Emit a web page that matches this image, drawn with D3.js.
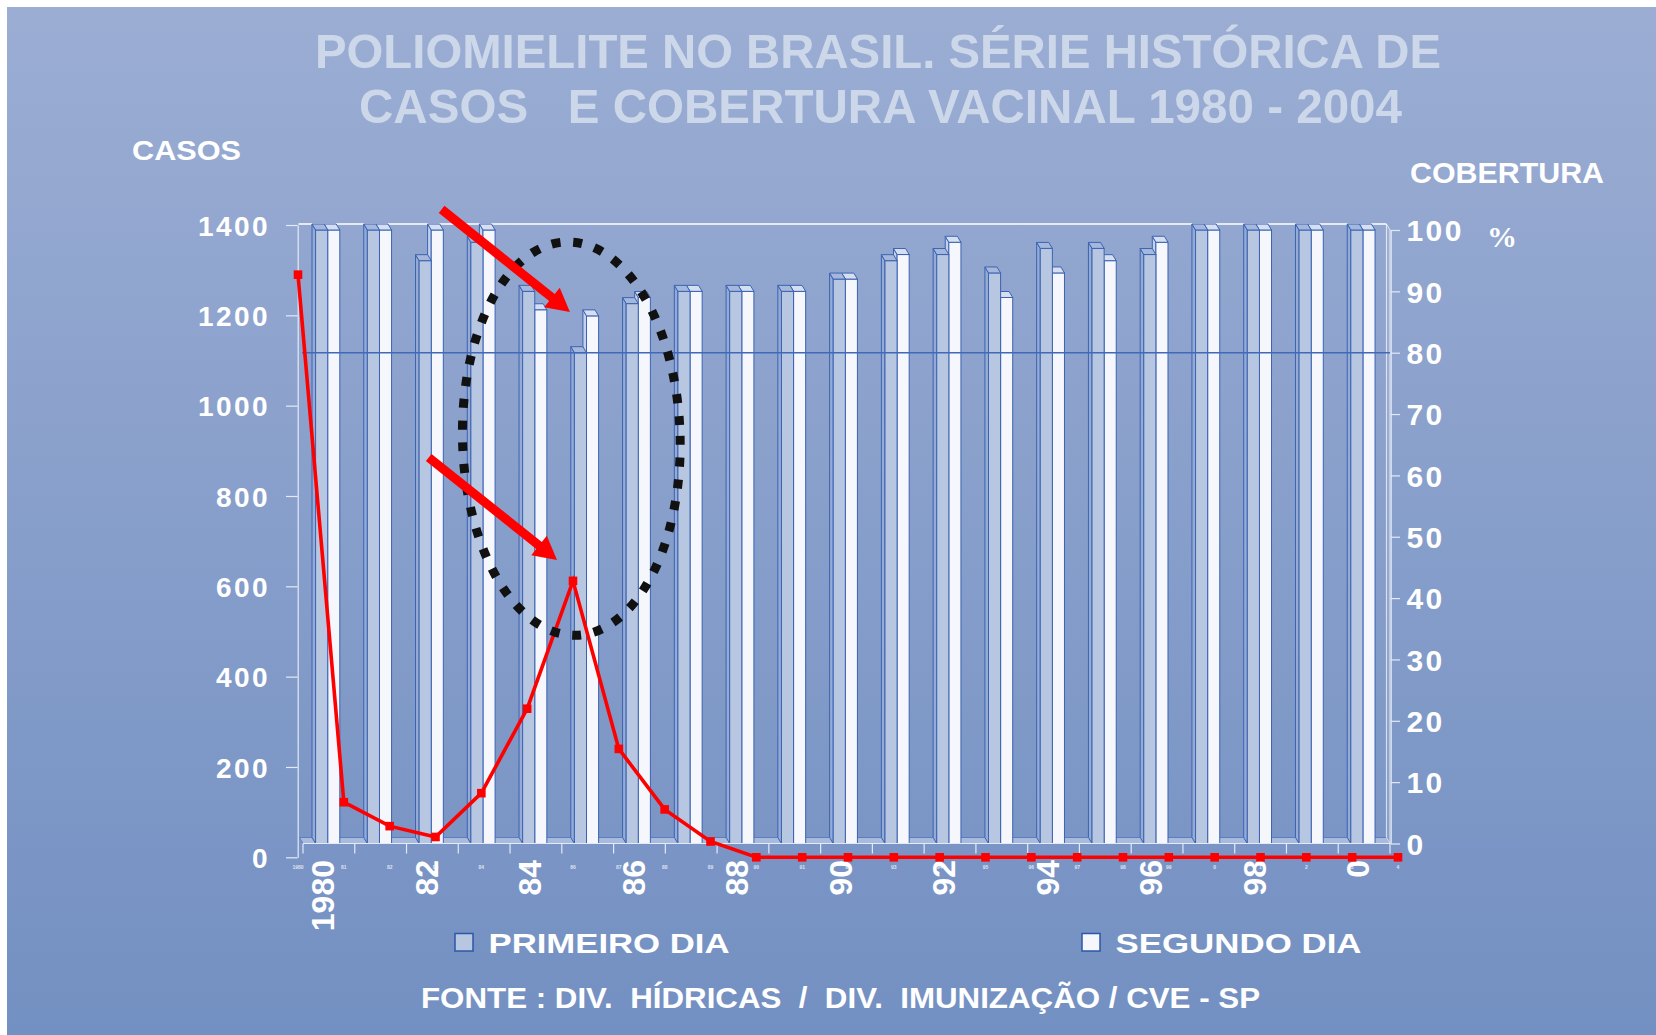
<!DOCTYPE html>
<html lang="pt">
<head>
<meta charset="utf-8">
<style>
  body { margin: 0; background: #fff; }
  svg { display: block; }
  text { font-family: "Liberation Sans", Arial, sans-serif; font-weight: bold; }
</style>
</head>
<body>
<svg width="1656" height="1035"></svg>
<script src="https://d3js.org/d3.v7.min.js"></script>
<script>
// cobertura vacinal (%) por ano - barras
var barYears = [1980, 1981, 1982, 1983, 1984, 1985, 1986, 1987, 1988, 1989, 1990,
                1991, 1992, 1993, 1994, 1995, 1996, 1997, 1998, 1999, 2000];
var primeiroDia = [100, 100, 95, 98, 90, 80, 88, 90, 90, 90, 92, 95, 96, 93, 97, 97, 96, 100, 100, 100, 100];
var segundoDia  = [100, 100, 100, 100, 87, 86, 89, 90, 90, 90, 92, 96, 98, 89, 93, 95, 98, 100, 100, 100, 100];

// casos de poliomielite - linha (1980-2004)
var lineYears = ["1980", "81", "82", "83", "84", "85", "86", "87", "88", "89", "90", "91", "92",
                 "93", "94", "95", "96", "97", "98", "99", "0", "1", "2", "3", "4"];
var casos = [1290, 122, 69, 45, 142, 329, 612, 240, 106, 35, 0, 0, 0,
             0, 0, 0, 0, 0, 0, 0, 0, 0, 0, 0, 0];

// eixos
var tickYears  = [1980, 1982, 1984, 1986, 1988, 1990, 1992, 1994, 1996, 1998, 2000];
var tickLabels = ["1980", "82", "84", "86", "88", "90", "92", "94", "96", "98", "0"];
var casosTicks = [0, 200, 400, 600, 800, 1000, 1200, 1400];
var cobTicks   = [0, 10, 20, 30, 40, 50, 60, 70, 80, 90, 100];
var meta = 80;

var svg = d3.select("svg"),
    width = +svg.attr("width"),
    height = +svg.attr("height");

var defs = svg.append("defs");
var grad = defs.append("linearGradient").attr("id", "bg")
    .attr("x1", 0).attr("y1", 0).attr("x2", 0).attr("y2", 1);
grad.append("stop").attr("offset", "0%").attr("stop-color", "#9badd3");
grad.append("stop").attr("offset", "100%").attr("stop-color", "#7390c2");

svg.append("rect").attr("width", width).attr("height", height).attr("fill", "#fff");
svg.append("rect").attr("x", 7).attr("y", 7)
    .attr("width", width - 7).attr("height", height - 7).attr("fill", "url(#bg)");

// scales
var xb = d3.scaleBand().domain(barYears).range([303, 1390]);
var yR = d3.scaleLinear().domain([0, 100]).range([843.5, 230]);
var yL = d3.scaleLinear().domain([0, 1400]).range([857.3, 225]);
var xl = d3.scalePoint().domain(lineYears).range([298, 1398]);

var bw = 12.1, dx = -3.6, dz = -6, off = 12.6;
var pale = "#e4eaf5";

// title
svg.append("text").attr("x", 315).attr("y", 68)
    .attr("font-size", 49).attr("fill", "#cdd7ea")
    .attr("textLength", 1126).attr("lengthAdjust", "spacingAndGlyphs")
    .text("POLIOMIELITE NO BRASIL. SÉRIE HISTÓRICA DE");
svg.append("text").attr("x", 359).attr("y", 122.5)
    .attr("font-size", 49).attr("fill", "#cdd7ea")
    .style("white-space", "pre")
    .attr("textLength", 1043).attr("lengthAdjust", "spacingAndGlyphs")
    .text("CASOS   E COBERTURA VACINAL 1980 - 2004");

svg.append("text").attr("x", 132).attr("y", 159.5)
    .attr("font-size", 27).attr("fill", "#fff")
    .attr("textLength", 109).attr("lengthAdjust", "spacingAndGlyphs")
    .text("CASOS");
svg.append("text").attr("x", 1410).attr("y", 183.3)
    .attr("font-size", 30).attr("fill", "#fff")
    .attr("textLength", 194).attr("lengthAdjust", "spacingAndGlyphs")
    .text("COBERTURA");
svg.append("text").attr("x", 1487).attr("y", 246.5)
    .attr("font-size", 30).attr("fill", "#fff")
    .style("font-family", "'Liberation Serif', 'Times New Roman', serif")
    .text("%");

// 3d walls / floor
var x0 = xb.range()[0], x1 = xb.range()[1];
svg.append("polygon")
    .attr("points", [[x0 + dx, yR(0) + dz], [x1 + dx, yR(0) + dz], [x1, yR(0)], [x0, yR(0)]].join(" "))
    .attr("fill", "#a9bbdd").attr("stroke", "#5b7dc4").attr("stroke-width", 1);
svg.append("polygon")
    .attr("points", [[x1 + dx, yR(100) + dz], [x1, yR(100)], [x1, yR(0)], [x1 + dx, yR(0) + dz]].join(" "))
    .attr("fill", "rgba(255,255,255,0.12)").attr("stroke", "rgba(255,255,255,0.75)").attr("stroke-width", 1);
svg.append("line")
    .attr("x1", x0 + dx - 1).attr("x2", x1 + dx).attr("y1", yR(100) + dz).attr("y2", yR(100) + dz)
    .attr("stroke", "#fff").attr("stroke-width", 1.5);

// bars (segundo dia behind, primeiro dia in front)
var series = [
  { values: segundoDia, shift: bw, front: "#f5f7fc", side: "#c6d2ea", top: "#d6dff0" },
  { values: primeiroDia, shift: 0, front: "#b8c7e1", side: "#95abd3", top: "#a5b8dc" }
];
series.forEach(function(s) {
  var g = svg.append("g");
  barYears.forEach(function(yr, i) {
    var x = xb(yr) + off + s.shift, yt = yR(s.values[i]), yb = yR(0);
    g.append("polygon")
      .attr("points", [[x, yt], [x + dx, yt + dz], [x + dx, yb + dz], [x, yb]].join(" "))
      .attr("fill", s.side).attr("stroke", "#3b63b3").attr("stroke-width", 1);
    g.append("rect").attr("x", x).attr("y", yt).attr("width", bw).attr("height", yb - yt)
      .attr("fill", s.front).attr("stroke", "#3b63b3").attr("stroke-width", 1);
    g.append("polygon")
      .attr("points", [[x, yt], [x + bw, yt], [x + bw + dx, yt + dz], [x + dx, yt + dz]].join(" "))
      .attr("fill", s.top).attr("stroke", "#3b63b3").attr("stroke-width", 1);
  });
});

// meta line
svg.append("line").attr("x1", 302).attr("x2", x1).attr("y1", yR(meta)).attr("y2", yR(meta))
    .attr("stroke", "#4168b9").attr("stroke-width", 1.5);

// category axis
svg.append("line").attr("x1", x0).attr("x2", x1).attr("y1", yR(0)).attr("y2", yR(0))
    .attr("stroke", pale).attr("stroke-width", 1.2);
svg.append("g").selectAll("line").data(barYears.concat(["end"])).join("line")
    .attr("x1", function(d) { return d === "end" ? x1 : xb(d); })
    .attr("x2", function(d) { return d === "end" ? x1 : xb(d); })
    .attr("y1", yR(0)).attr("y2", yR(0) + 10)
    .attr("stroke", pale).attr("stroke-width", 1.2);

svg.append("g").selectAll("text").data(tickYears).join("text")
    .attr("transform", function(d) {
      return "translate(" + (xb(d) + xb.bandwidth() / 2 - 6) + "," + 860 + ") rotate(-90)";
    })
    .attr("text-anchor", "end").attr("dy", "0.35em")
    .attr("font-size", 32).attr("fill", "#fff")
    .text(function(d, i) { return tickLabels[i]; });

// tiny secondary category labels
svg.append("g").selectAll("text").data(lineYears).join("text")
    .attr("x", function(d) { return xl(d); }).attr("y", 869)
    .attr("text-anchor", "middle").attr("font-size", 5)
    .attr("fill", "rgba(255,255,255,0.75)")
    .text(function(d) { return d; });

// left axis
var axL = svg.append("g").attr("transform", "translate(297.7,0)")
    .call(d3.axisLeft(yL).tickValues(casosTicks).tickFormat(d3.format("d"))
      .tickSize(11.7).tickSizeOuter(0).tickPadding(16));
axL.select(".domain").attr("stroke", pale).attr("stroke-width", 1.2);
axL.selectAll(".tick line").attr("stroke", pale).attr("stroke-width", 1.2);
axL.selectAll(".tick text").attr("fill", "#fff").attr("font-size", 28)
    .attr("font-family", null).style("letter-spacing", "2.4px").attr("dy", "0.36em");

// right axis
var axR = svg.append("g").attr("transform", "translate(1390.7,0)")
    .call(d3.axisRight(yR).tickValues(cobTicks).tickSize(9.3).tickSizeOuter(0).tickPadding(6.5));
axR.select(".domain").attr("stroke", pale).attr("stroke-width", 1.2);
axR.selectAll(".tick line").attr("stroke", pale).attr("stroke-width", 1.2);
axR.selectAll(".tick text").attr("fill", "#fff").attr("font-size", 30)
    .attr("font-family", null).style("letter-spacing", "2.4px").attr("dy", "0.36em");

// casos line
var line = d3.line().x(function(d, i) { return xl(lineYears[i]); }).y(function(d) { return yL(d); });
svg.append("path").datum(casos).attr("d", line)
    .attr("fill", "none").attr("stroke", "#ff0000").attr("stroke-width", 3.6);
svg.append("g").selectAll("rect").data(casos).join("rect")
    .attr("x", function(d, i) { return xl(lineYears[i]) - 4.3; })
    .attr("y", function(d) { return yL(d) - 4.3; })
    .attr("width", 8.6).attr("height", 8.6).attr("fill", "#ff0000");

// annotations: dotted ellipse and arrows around the 1985/1986 drop
var ex = xb(1985) + 9.5, ey = yR(66);
svg.append("ellipse").attr("cx", ex).attr("cy", ey).attr("rx", 108.8).attr("ry", 196.7)
    .attr("transform", "rotate(-1.4," + ex + "," + ey + ")")
    .attr("fill", "none").attr("stroke", "#111").attr("stroke-width", 9)
    .attr("stroke-dasharray", "9 12.8");

function arrow(tx, ty) {
  var ux = 128.3, uy = 102.5, len = Math.sqrt(ux * ux + uy * uy);
  ux /= len; uy /= len;
  var px = -uy, py = ux, head = 23, hw = 12.5;
  var bx = tx - ux * head, by = ty - uy * head;
  svg.append("line").attr("x1", tx - ux * len).attr("y1", ty - uy * len)
      .attr("x2", bx + ux * 2).attr("y2", by + uy * 2)
      .attr("stroke", "#ff0000").attr("stroke-width", 9);
  svg.append("polygon")
      .attr("points", [[tx, ty], [bx + px * hw, by + py * hw], [bx - px * hw, by - py * hw]].join(" "))
      .attr("fill", "#ff0000");
}
arrow(xb(1985) + off - 4.5, yR(segundoDia[5]) - 4);
arrow(xl("86") - 16, yL(casos[6]) - 21);

// legend
var legend = [
  { label: "PRIMEIRO DIA", fill: "#b8c7e1", x: 455, len: 241 },
  { label: "SEGUNDO DIA", fill: "#f5f7fc", x: 1082, len: 246 }
];
legend.forEach(function(l) {
  svg.append("rect").attr("x", l.x).attr("y", 933.5).attr("width", 18).attr("height", 17.5)
      .attr("fill", l.fill).attr("stroke", "#2d56a8").attr("stroke-width", 1.5);
  svg.append("text").attr("x", l.x + 33.5).attr("y", 952.7)
      .attr("font-size", 28).attr("fill", "#fff")
      .attr("textLength", l.len).attr("lengthAdjust", "spacingAndGlyphs")
      .text(l.label);
});

svg.append("text").attr("x", 421).attr("y", 1008)
    .attr("font-size", 29).attr("fill", "#fff")
    .style("white-space", "pre")
    .attr("textLength", 839).attr("lengthAdjust", "spacingAndGlyphs")
    .text("FONTE : DIV.  HÍDRICAS  /  DIV.  IMUNIZAÇÃO / CVE - SP");
</script>
</body>
</html>
